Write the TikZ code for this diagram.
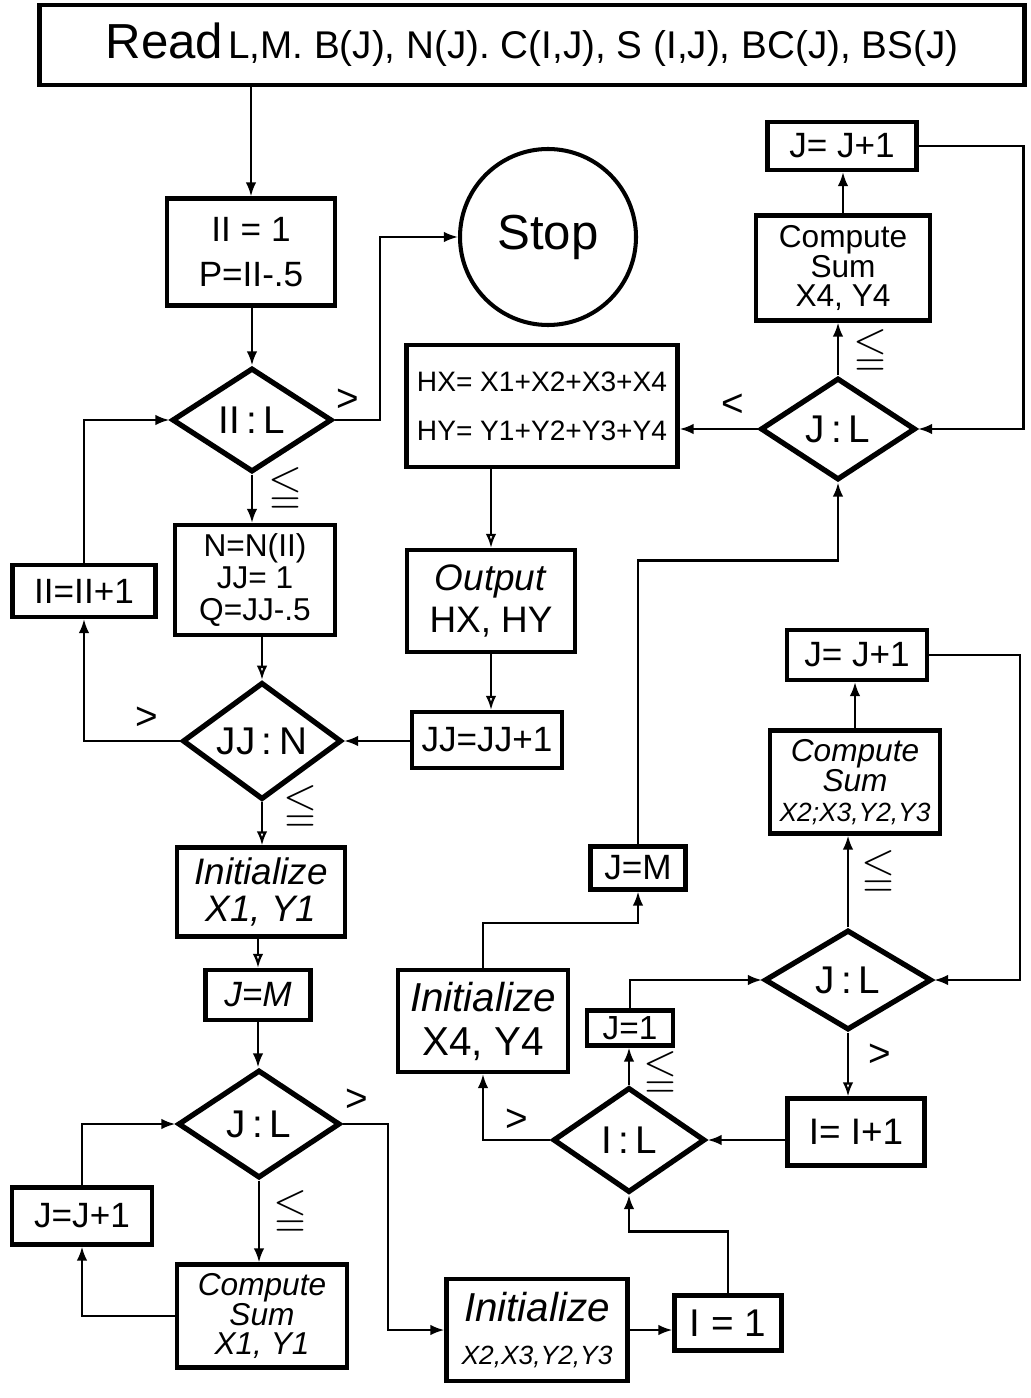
\documentclass[tikz,border=0pt]{standalone}
\usepackage{fontspec}
\setmainfont{Liberation Sans}
\usepackage{amssymb}
\usetikzlibrary{shapes.geometric,arrows.meta}
\newcommand{\fsz}[2]{\fontsize{#1}{#2}\selectfont}
\begin{document}
\begin{tikzpicture}[x=0.02cm,y=-0.02cm,
  box/.style 2 args={draw,line width=2.4pt,inner sep=0pt,align=center,
    minimum width=#1*0.02cm,minimum height=#2*0.02cm},
  dia/.style 2 args={draw,diamond,line width=3pt,inner sep=0pt,
    minimum width=#1*0.02cm,minimum height=#2*0.02cm,font=\fsz{22}{24}},
  line/.style={line width=1.3pt},
  arr/.style={line,-{Latex[length=8pt,width=6pt]}},
  oarr/.style={line,-{Latex[open,length=8pt,width=6pt]}},
  lbl/.style={font=\fsz{22}{24}},
  leq/.style={inner sep=0pt,font=\fsz{24.88}{26}}]
\useasboundingbox (0,0) rectangle (1030,1398);
\node[box={985}{80}] (read) at (532,45)
  {{\fsz{28}{30}Read} {\fsz{22}{24}L,M. B(J), N(J). C(I,J), S (I,J), BC(J), BS(J)}};
\node[box={168}{107},font=\fsz{20}{26}] (ii1) at (251,252) {II = 1\\P=II-.5};
\node[circle,draw,line width=2.3pt,minimum size=176*0.02cm,inner sep=0pt,
  font=\fsz{28}{30}] (stop) at (548,237) {Stop};
\node[dia={160}{104}] (d1) at (252,420) {II\,:\,L};
\node[box={160}{110},font=\fsz{18}{18}] (nii) at (255,580) {N=N(II)\\JJ= 1\\Q=JJ-.5};
\node[box={143}{52},font=\fsz{20}{22}] (iiinc) at (84,591) {II=II+1};
\node[dia={159}{103}] (d2) at (262,741) {JJ\,:\,N};
\node[box={150}{56},font=\fsz{20}{22}] (jjinc) at (487,740) {JJ=JJ+1};
\node[box={271}{122},font=\fsz{16}{28}] (hx) at (542,406) {HX= X1+X2+X3+X4\\HY= Y1+Y2+Y3+Y4};
\node[box={168}{102},font=\fsz{21}{24}] (out) at (491,601) {\textit{Output}\\HX, HY};
\node[box={149}{48},font=\fsz{20}{22}] (jinca) at (842,146) {J= J+1};
\node[box={174}{105},font=\fsz{18}{17}] (compa) at (843,268) {Compute\\Sum\\X4, Y4};
\node[dia={155}{102}] (da) at (838,429) {J\,:\,L};
\node[box={95}{43},font=\fsz{20}{22}] (jmb) at (638,868) {J=M};
\node[box={170}{102},font=\fsz{23}{25}] (initc) at (483,1021) {\textit{Initialize}\\X4, Y4};
\node[box={140}{50},font=\fsz{20}{22}] (jincb) at (857,655) {J= J+1};
\node[box={170}{103},font=\fsz{18}{17}] (compb) at (855,782)
  {\textit{Compute}\\\textit{Sum}\\{\fsz{15}{17}\textit{X2;X3,Y2,Y3}}};
\node[dia={167}{100}] (db) at (848,980) {J\,:\,L};
\node[box={137}{67},font=\fsz{21}{22}] (iinc) at (856,1132) {I= I+1};
\node[dia={152}{105}] (dc) at (629,1140) {I\,:\,L};
\node[box={86}{35},font=\fsz{19}{20}] (j1) at (630,1028) {J=1};
\node[box={107}{55},font=\fsz{22}{22}] (i1) at (728,1323) {I = 1};
\node[box={181}{102},font=\fsz{23}{24}] (initb) at (537,1330)
  {\textit{Initialize}\\{\fsz{15}{24}\textit{X2,X3,Y2,Y3}}};
\node[dia={162}{108}] (dd) at (259,1124) {J\,:\,L};
\node[box={105}{50},font=\fsz{20}{22}] (jma) at (258,995) {\textit{J=M}};
\node[box={168}{89},font=\fsz{21}{21}] (inita) at (261,892) {\textit{Initialize}\\\textit{X1, Y1}};
\node[box={170}{103},font=\fsz{18}{17}] (compc) at (262,1316)
  {\textit{Compute}\\\textit{Sum}\\\textit{X1, Y1}};
\node[box={140}{57},font=\fsz{20}{22}] (jincc) at (82,1216) {J=J+1};
\draw[arr] (read.south -| ii1) -- (ii1.north);
\draw[arr] (d1.north |- ii1.south) -- (d1.north);
\draw[arr] (d1.east) -- ++(45,0) |- (stop.west);
\draw[arr] (d1.south) -- (d1.south |- nii.north);
\draw[oarr] (d2.north |- nii.south) -- (d2.north);
\draw[arr] (d2.west) -| (iiinc.south);
\draw[arr] (iiinc.north) |- (d1.west);
\draw[arr] (d2.east -| jjinc.west) -- (d2.east);
\draw[oarr] (d2.south) -- (d2.south |- inita.north);
\draw[oarr] (inita.south -| jma) -- (jma.north);
\draw[arr] (jma.south) -- (jma.south |- dd.north);
\draw[arr] (dd.south) -- (dd.south |- compc.north);
\draw[arr] (compc.west) -| (jincc.south);
\draw[arr] (jincc.north) |- (dd.west);
\draw[arr] (dd.east) -- ++(45,0) |- (initb.west);
\draw[arr] (initb.east) -- (initb.east -| i1.west);
\draw[arr] (i1.north) -- ++(0,-62) -| (dc.south);
\draw[arr] (dc.east -| iinc.west) -- (dc.east);
\draw[arr] (dc.west) -| (initc.south);
\draw[arr] (dc.north) -- (dc.north |- j1.south);
\draw[arr] (j1.north) |- (db.west);
\draw[oarr] (db.south) -- (db.south |- iinc.north);
\draw[arr] (db.north) -- (db.north |- compb.south);
\draw[arr] (compb.north) -- (compb.north |- jincb.south);
\draw[arr] (jincb.east) -- ++(91,0) |- (db.east);
\draw[arr] (initc.north) -- ++(0,-45) -| (jmb.south);
\draw[arr] (jmb.north) -- ++(0,-284) -| (da.south);
\draw[arr] (da.north) -- (da.north |- compa.south);
\draw[arr] (compa.north) -- (compa.north |- jinca.south);
\draw[arr] (jinca.east) -- ++(105,0) |- (da.east);
\draw[arr] (da.west) -- (da.west -| hx.east);
\draw[oarr] (hx.south -| out) -- (out.north);
\draw[oarr] (out.south) -- (out.south |- jjinc.north);
\node[lbl] at (348,400) {>};
\node[leq] at (285,490) {$\leqq$};
\node[lbl] at (147,718) {>};
\node[leq] at (300,808) {$\leqq$};
\node[lbl] at (733,405) {<};
\node[leq] at (870,352) {$\leqq$};
\node[leq] at (878,873) {$\leqq$};
\node[lbl] at (880,1055) {>};
\node[leq] at (660,1074) {$\leqq$};
\node[lbl] at (517,1120) {>};
\node[lbl] at (357,1100) {>};
\node[leq] at (290,1213) {$\leqq$};
\end{tikzpicture}
\end{document}
